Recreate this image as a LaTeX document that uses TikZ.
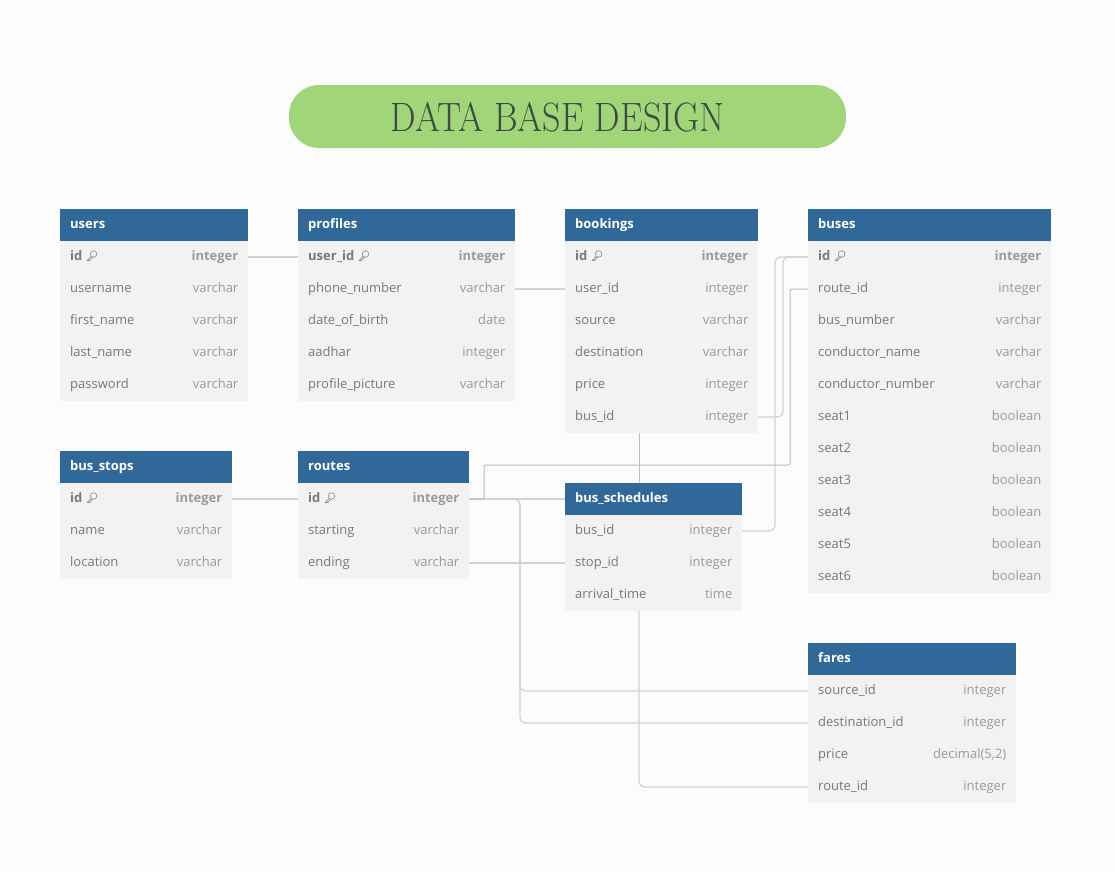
\documentclass[tikz,border=0pt]{standalone}
\usepackage{fontspec}
\setmainfont{Open Sans}
\newfontfamily\titlefont{Latin Modern Roman}
\definecolor{pagebg}{HTML}{FCFCFC}
\definecolor{headblue}{HTML}{30689A}
\definecolor{rowgrey}{HTML}{F2F2F2}
\definecolor{nametext}{HTML}{787878}
\definecolor{typetext}{HTML}{9A9A9A}
\definecolor{linegrey}{HTML}{D2D2D2}
\definecolor{pillgreen}{HTML}{A0D677}
\definecolor{titletext}{HTML}{3D4A45}
\pgfdeclarelayer{back}
\pgfsetlayers{back,main}
\tikzset{
  headbox/.style={fill=headblue,draw=none,inner sep=0pt,outer sep=0pt,minimum height=32pt,anchor=north west},
  rowbox/.style={fill=rowgrey,draw=none,inner sep=0pt,outer sep=0pt,minimum height=32pt,anchor=north west},
  headtext/.style={text=white,font=\fontsize{13}{13}\selectfont\bfseries,inner sep=0pt,anchor=base west},
  nametxt/.style={text=nametext,font=\fontsize{13}{13}\selectfont,inner sep=0pt,anchor=base west},
  typetxt/.style={text=typetext,font=\fontsize{13}{13}\selectfont,inner sep=0pt,anchor=base east},
  keyname/.style={nametxt,font=\fontsize{13}{13}\selectfont\bfseries},
  keytype/.style={typetxt,font=\fontsize{13}{13}\selectfont\bfseries},
  plainname/.style={nametxt},
  plaintype/.style={typetxt},
  keyline/.style={draw=nametext!85,line width=0.65pt},
  conn/.style={draw=linegrey,line width=1.3pt,rounded corners=6pt},
  connthin/.style={draw=linegrey!90!black,line width=1pt,rounded corners=6pt},
  connsharp/.style={draw=linegrey!90!black,line width=1pt,rounded corners=2pt},
}
\newcommand{\dbhead}[5]{% name x1 x2 ytop title
  \pgfmathsetmacro{\boxw}{#3-#2}
  \node[headbox,minimum width=\boxw pt] (#1) at (#2,#4) {};
  \node[headtext] (#1-t) at ([xshift=10pt,yshift=-3.5pt]#1.west) {#5};
}
\newcommand{\dbrow}[7]{% name x1 x2 ytop left right kind
  \pgfmathsetmacro{\boxw}{#3-#2}
  \node[rowbox,minimum width=\boxw pt] (#1) at (#2,#4) {};
  \node[#7name] (#1-n) at ([xshift=10pt,yshift=-3.5pt]#1.west) {#5};
  \node[#7type] (#1-y) at ([xshift=-9.5pt,yshift=-3.5pt]#1.east) {#6};
}
\newcommand{\keyicon}[1]{% text node of the row name: icon to its right
  \draw[keyline] ([xshift=11pt,yshift=6.5pt]#1.base east) circle (3.3pt);
  \draw[keyline,line cap=round,line join=round] ([xshift=8.7pt,yshift=4.2pt]#1.base east) -- ([xshift=4.5pt,yshift=0pt]#1.base east) -- ([xshift=7pt,yshift=0pt]#1.base east) -- ([xshift=10pt,yshift=3.2pt]#1.base east);
}
\begin{document}
\begin{tikzpicture}[x=1pt,y=-1pt]
\useasboundingbox (0,0) rectangle (1115,873);
\begin{pgfonlayer}{back}
  \fill[pagebg] (0,0) rectangle (1115,873);
\end{pgfonlayer}

\node[fill=pillgreen,draw=none,rounded corners=30pt,minimum width=557pt,minimum height=63pt,inner sep=0pt,outer sep=0pt,anchor=north west] (titlepill) at (289,85) {};
\node[text=titletext,font=\titlefont\fontsize{41}{41}\selectfont,inner sep=0pt,xscale=0.88,transform shape] (title) at (557.5,117) {DATA BASE DESIGN};

% users
\dbhead{users}{60}{248}{209}{users}
\dbrow{users-id}{60}{248}{241}{id}{integer}{key}
\dbrow{users-username}{60}{248}{273}{username}{varchar}{plain}
\dbrow{users-first}{60}{248}{305}{first\_name}{varchar}{plain}
\dbrow{users-last}{60}{248}{337}{last\_name}{varchar}{plain}
\dbrow{users-pass}{60}{248}{369}{password}{varchar}{plain}
\keyicon{users-id-n}

% profiles
\dbhead{profiles}{298}{515}{209}{profiles}
\dbrow{profiles-user}{298}{515}{241}{user\_id}{integer}{key}
\dbrow{profiles-phone}{298}{515}{273}{phone\_number}{varchar}{plain}
\dbrow{profiles-dob}{298}{515}{305}{date\_of\_birth}{date}{plain}
\dbrow{profiles-aadhar}{298}{515}{337}{aadhar}{integer}{plain}
\dbrow{profiles-pic}{298}{515}{369}{profile\_picture}{varchar}{plain}
\keyicon{profiles-user-n}

% bookings
\dbhead{bookings}{565}{758}{209}{bookings}
\dbrow{bookings-id}{565}{758}{241}{id}{integer}{key}
\dbrow{bookings-user}{565}{758}{273}{user\_id}{integer}{plain}
\dbrow{bookings-source}{565}{758}{305}{source}{varchar}{plain}
\dbrow{bookings-dest}{565}{758}{337}{destination}{varchar}{plain}
\dbrow{bookings-price}{565}{758}{369}{price}{integer}{plain}
\dbrow{bookings-bus}{565}{758}{401}{bus\_id}{integer}{plain}
\keyicon{bookings-id-n}

% buses
\dbhead{buses}{808}{1051}{209}{buses}
\dbrow{buses-id}{808}{1051}{241}{id}{integer}{key}
\dbrow{buses-route}{808}{1051}{273}{route\_id}{integer}{plain}
\dbrow{buses-number}{808}{1051}{305}{bus\_number}{varchar}{plain}
\dbrow{buses-cname}{808}{1051}{337}{conductor\_name}{varchar}{plain}
\dbrow{buses-cnum}{808}{1051}{369}{conductor\_number}{varchar}{plain}
\dbrow{buses-s1}{808}{1051}{401}{seat1}{boolean}{plain}
\dbrow{buses-s2}{808}{1051}{433}{seat2}{boolean}{plain}
\dbrow{buses-s3}{808}{1051}{465}{seat3}{boolean}{plain}
\dbrow{buses-s4}{808}{1051}{497}{seat4}{boolean}{plain}
\dbrow{buses-s5}{808}{1051}{529}{seat5}{boolean}{plain}
\dbrow{buses-s6}{808}{1051}{561}{seat6}{boolean}{plain}
\keyicon{buses-id-n}

% bus_stops
\dbhead{stops}{60}{232}{451}{bus\_stops}
\dbrow{stops-id}{60}{232}{483}{id}{integer}{key}
\dbrow{stops-name}{60}{232}{515}{name}{varchar}{plain}
\dbrow{stops-loc}{60}{232}{547}{location}{varchar}{plain}
\keyicon{stops-id-n}

% routes
\dbhead{routes}{298}{469}{451}{routes}
\dbrow{routes-id}{298}{469}{483}{id}{integer}{key}
\dbrow{routes-start}{298}{469}{515}{starting}{varchar}{plain}
\dbrow{routes-end}{298}{469}{547}{ending}{varchar}{plain}
\keyicon{routes-id-n}

% bus_schedules
\dbhead{sched}{565}{742}{483}{bus\_schedules}
\dbrow{sched-bus}{565}{742}{515}{bus\_id}{integer}{plain}
\dbrow{sched-stop}{565}{742}{547}{stop\_id}{integer}{plain}
\dbrow{sched-time}{565}{742}{579}{arrival\_time}{time}{plain}

% fares
\dbhead{fares}{808}{1016}{643}{fares}
\dbrow{fares-source}{808}{1016}{675}{source\_id}{integer}{plain}
\dbrow{fares-dest}{808}{1016}{707}{destination\_id}{integer}{plain}
\dbrow{fares-price}{808}{1016}{739}{price}{decimal(5,2)}{plain}
\dbrow{fares-route}{808}{1016}{771}{route\_id}{integer}{plain}

% waypoints
\coordinate (v484) at (484,465);
\coordinate (v790) at (790,465);
\coordinate (v520) at (520,600);
\coordinate (v639) at (639,700);
\coordinate (v775) at (775,400);
\coordinate (v783) at (783,350);

\begin{pgfonlayer}{back}
  \draw[conn] (users-id.east) -- (profiles-user.west);
  \draw[conn] (profiles-phone.east) -- (bookings-user.west);
  \draw[conn] (stops-id.east) -- (routes-id.west);
  \draw[conn] (routes-end.east) -- (sched-stop.west);
  \draw[conn] (routes-id.east) -- (sched.west);
  \draw[conn] (routes-id.east) -| (v520) |- (fares-source.west);
  \draw[conn] (routes-id.east) -| (v520) |- (fares-dest.west);
  \draw[conn] (sched-bus.east) -| (v775) |- (buses-id.west);
  \draw[conn] (bookings-bus.east) -| (v783) |- (buses-id.west);
  \draw[connsharp] (routes-id.east) -| (v484) -- (v790) |- (buses-route.west);
  \draw[connthin] (bookings.south -| v639) -- (v639 |- sched.north);
  \draw[conn] (v639 |- sched-time.south) |- (fares-route.west);
\end{pgfonlayer}
\end{tikzpicture}
\end{document}
